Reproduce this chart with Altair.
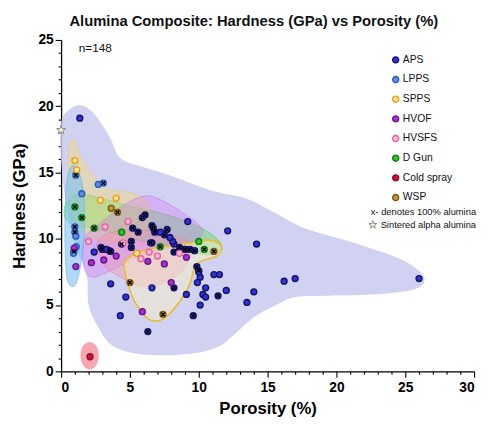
import altair as alt
import pandas as pd

# ---------------- data ----------------
processes = ["APS", "LPPS", "SPPS", "HVOF", "HVSFS", "D Gun", "Cold spray", "WSP"]
fill_colors = ["#3232dc", "#5a8ee8", "#ffe79a", "#a234cc", "#f7bcd6", "#22cc22", "#cc1038", "#c49437"]
stroke_colors = ["#141466", "#2a5cb8", "#f0980f", "#6b148e", "#e85f9c", "#127a12", "#8e0c2c", "#7a5412"]

aps_x = [1.36, 9.2, 12.1, 14.2, 16.2, 17.0, 26.0, 14.0, 13.5, 11.1, 11.5, 10.0, 10.1, 9.9, 10.5, 12.0,
         9.1, 10.3, 10.5, 11.4, 10.1, 9.6, 6.3, 6.6, 8.2, 3.6, 4.7, 4.3, 2.4, 9.7, 9.36, 9.0, 8.6, 8.2,
         8.1, 7.9, 7.5, 7.7, 7.2, 6.8, 6.7, 6.6, 6.1, 5.9, 5.2, 5.6, 5.1, 6.6, 3.0, 3.5, 4.4, 2.9, 3.3,
         3.6, 5.1, 6.5, 8.2, 8.6, 9.0, 9.86, 10.0]
aps_y = [19.1, 11.3, 10.6, 9.6, 6.8, 7.0, 7.0, 6.0, 5.2, 7.3, 7.3, 7.6, 7.1, 6.7, 6.3, 6.1,
         5.8, 5.8, 5.6, 5.7, 5.0, 4.2, 3.0, 6.3, 6.3, 6.6, 5.6, 4.2, 9.0, 9.1, 9.2, 9.2, 9.35, 9.6,
         9.8, 10.1, 10.3, 10.7, 10.5, 10.5, 10.8, 11.0, 11.8, 11.6, 10.8, 10.5, 9.8, 9.7, 9.2, 9.1, 9.6, 9.35, 9.2,
         9.05, 9.35, 9.7, 9.0, 9.0, 9.2, 7.9, 7.5]
aps_pure = [0, 0, 0, 0, 0, 0, 0, 0, 0, 0, 0, 1, 0, 0, 0, 0,
            0, 0, 0, 1, 0, 1, 1, 0, 1, 0, 0, 0, 0, 1, 1, 1, 1, 0,
            0, 0, 1, 1, 0, 1, 1, 1, 1, 1, 1, 1, 1, 0, 1, 1, 1, 1, 0,
            1, 1, 1, 1, 0, 1, 1, 0]

lpps_x = [1.07, 1.5, 1.0, 1.0, 1.07, 0.93, 1.1, 2.7, 3.07, 0.9]
lpps_y = [14.8, 13.4, 10.9, 10.5, 10.2, 9.05, 9.4, 14.1, 14.2, 8.9]
lpps_pure = [1, 0, 1, 1, 0, 1, 0, 0, 1, 0]

spps_x = [1.0, 1.14, 2.86, 4.0, 5.5]
spps_y = [15.9, 15.2, 12.9, 13.05, 8.9]
spps_pure = [0, 0, 0, 0, 0]

hvof_x = [0.95, 2.2, 8.0, 5.9, 6.3, 7.5, 9.1, 4.0, 3.1, 1.07]
hvof_y = [9.3, 8.2, 6.7, 4.5, 8.3, 8.1, 8.6, 8.7, 8.4, 7.9]
hvof_pure = [0, 0, 0, 0, 0, 0, 0, 0, 0, 0]

hvsfs_x = [4.86, 2.0, 4.5, 5.8, 6.4, 7.0, 3.2, 8.6]
hvsfs_y = [11.3, 9.8, 9.7, 8.5, 9.0, 8.7, 10.9, 8.9]
hvsfs_pure = [0, 0, 0, 0, 0, 0, 0, 0]

dgun_x = [1.0, 1.5, 2.4, 4.4, 10.0, 10.4, 7.2]
dgun_y = [12.4, 11.6, 10.8, 10.5, 9.8, 9.2, 9.4]
dgun_pure = [1, 1, 1, 0, 0, 1, 1]

cold_x = [2.1]
cold_y = [1.1]
cold_pure = [0]

wsp_x = [3.64, 5.0, 7.4, 11.1, 4.1]
wsp_y = [12.3, 6.7, 4.3, 9.05, 12.0]
wsp_pure = [0, 1, 1, 1, 1]

sintered_x = [0.0]
sintered_y = [18.2]

# region outlines (porosity %, hardness GPa)
aps_reg_x = [0.0, 0.43, 1.29, 2.14, 2.86, 3.57, 4.29, 5.71, 7.86, 10.9, 13.4, 15.8, 17.7, 20.6, 24.1, 25.6,
             26.4, 25.7, 22.7, 19.1, 17.0, 15.8, 14.1, 12.7, 11.3, 9.14, 6.07, 3.79, 2.71, 2.0, 1.86, 1.14, 0.43, 0.0]
aps_reg_y = [18.7, 19.6, 20.1, 19.7, 18.8, 17.6, 16.1, 15.5, 14.8, 13.65, 13.05, 11.8, 10.8, 9.9, 8.7, 7.9,
             7.0, 6.2, 5.8, 5.7, 5.6, 5.1, 4.15, 2.9, 1.8, 1.3, 1.26, 1.9, 3.3, 5.0, 7.3, 9.2, 12.2, 15.9]
dgun_reg_x = [0.29, 0.93, 2.36, 4.86, 7.71, 10.2, 11.4, 11.6, 10.6, 8.43, 5.57, 2.71, 0.93, 0.29]
dgun_reg_y = [12.5, 13.3, 13.2, 12.5, 11.8, 10.8, 9.9, 9.2, 8.8, 9.2, 9.9, 10.7, 11.05, 11.6]
spps_reg_x = [0.57, 1.0, 1.43, 2.14, 3.29, 4.86, 6.14, 6.43, 5.93, 4.5, 2.71, 1.57, 0.86, 0.57]
spps_reg_y = [16.9, 17.4, 16.2, 15.0, 13.8, 13.5, 12.9, 11.6, 10.3, 9.8, 9.9, 10.5, 11.8, 14.0]
hvof_reg_x = [1.64, 2.71, 4.5, 5.93, 7.0, 8.79, 10.2, 9.86, 8.07, 5.57, 3.79, 2.36, 1.71]
hvof_reg_y = [9.9, 11.05, 12.5, 13.2, 13.05, 12.0, 10.8, 9.9, 9.35, 8.6, 7.7, 7.1, 7.7]
hvsfs_reg_x = [2.71, 4.86, 7.71, 9.5, 9.14, 8.07, 6.29, 4.5, 3.07]
hvsfs_reg_y = [9.9, 10.7, 10.3, 9.6, 8.1, 7.0, 6.4, 7.0, 8.1]
wsp_reg_x = [4.64, 6.29, 8.79, 10.7, 11.6, 11.4, 9.86, 9.36, 8.64, 7.5, 6.43, 5.43, 4.86]
wsp_reg_y = [8.3, 9.2, 9.6, 9.9, 9.5, 8.75, 8.1, 6.6, 5.3, 4.0, 3.9, 5.1, 6.6]
lpps_reg_x = [0.79, 1.29, 1.64, 1.71, 1.5, 1.14, 0.79, 0.43, 0.29, 0.29, 0.43]
lpps_reg_y = [15.5, 15.0, 13.3, 10.7, 8.5, 6.75, 6.4, 7.0, 9.2, 12.2, 14.4]
cold_reg_x = [1.43, 1.6, 2.07, 2.55, 2.71, 2.55, 2.07, 1.6]
cold_reg_y = [1.2, 1.9, 2.2, 1.9, 1.2, 0.5, 0.15, 0.5]

x_ticks = list(range(0, 31))
y_ticks = list(range(0, 26))

# ---------------- build ----------------
FONT = "Liberation Sans"

rows = []
for name, xs, ys, ps in [
    ("APS", aps_x, aps_y, aps_pure), ("LPPS", lpps_x, lpps_y, lpps_pure),
    ("SPPS", spps_x, spps_y, spps_pure), ("HVOF", hvof_x, hvof_y, hvof_pure),
    ("HVSFS", hvsfs_x, hvsfs_y, hvsfs_pure), ("D Gun", dgun_x, dgun_y, dgun_pure),
    ("Cold spray", cold_x, cold_y, cold_pure), ("WSP", wsp_x, wsp_y, wsp_pure)]:
    for a, b, c in zip(xs, ys, ps):
        rows.append({"porosity": a, "hardness": b, "process": name, "pure": c})
pts = pd.DataFrame(rows)

major_tick = {"condition": {"test": "datum.value % 5 === 0", "value": 6}, "value": 3}
xaxis = alt.Axis(values=x_ticks, labelExpr="datum.value % 5 === 0 ? datum.label : ''",
                 tickSize=major_tick, labelOverlap=False, grid=False, domainColor="black",
                 tickColor="black", domainWidth=1.3, tickWidth=1.1, labelFont=FONT,
                 labelFontSize=14, labelFontWeight="bold", labelColor="black", labelPadding=4,
                 title="Porosity (%)", titleFont=FONT, titleFontSize=17, titleFontWeight="bold",
                 titleColor="black", titlePadding=6)
yaxis = alt.Axis(values=y_ticks, labelExpr="datum.value % 5 === 0 ? datum.label : ''",
                 tickSize=major_tick, labelOverlap=False, grid=False, domainColor="black",
                 tickColor="black", domainWidth=1.3, tickWidth=1.1, labelFont=FONT,
                 labelFontSize=14, labelFontWeight="bold", labelColor="black", labelPadding=2,
                 title="Hardness (GPa)", titleFont=FONT, titleFontSize=17, titleFontWeight="bold",
                 titleColor="black", titlePadding=10)

X = alt.X("porosity:Q", scale=alt.Scale(domain=[0, 30], nice=False, zero=False), axis=xaxis)
Y = alt.Y("hardness:Q", scale=alt.Scale(domain=[0, 25], nice=False, zero=False), axis=yaxis)


def region(xs, ys, fill, fop, stroke, sop, sw):
    df = pd.DataFrame({"porosity": xs, "hardness": ys, "k": list(range(len(xs)))})
    return alt.Chart(df).mark_line(
        interpolate="cardinal-closed", fill=fill, fillOpacity=fop, stroke=stroke,
        strokeOpacity=sop, strokeWidth=sw
    ).encode(x=X, y=Y, order="k:Q")


layers = [
    region(aps_reg_x, aps_reg_y, "#c9c9f0", 0.85, "#c9c9f0", 0.0, 1),
    region(dgun_reg_x, dgun_reg_y, "#4fdc4f", 0.4, "#3cc83c", 0.5, 1),
    region(spps_reg_x, spps_reg_y, "#f8e060", 0.38, "#f0d050", 0.5, 1),
    region(hvof_reg_x, hvof_reg_y, "#d673f2", 0.33, "#c060e0", 0.4, 1),
    region(hvsfs_reg_x, hvsfs_reg_y, "#ff8aa8", 0.35, "#f07090", 0.4, 1),
    region(wsp_reg_x, wsp_reg_y, "#fbf1bf", 0.45, "#e8be2c", 1.0, 1.6),
    region(lpps_reg_x, lpps_reg_y, "#7ec0f2", 0.6, "#6ab0e8", 0.6, 1),
    region(cold_reg_x, cold_reg_y, "#f36b7a", 0.6, "#f36b7a", 0.3, 1),
]

points = alt.Chart(pts).mark_circle(size=36, strokeWidth=1.4, opacity=1).encode(
    x=X, y=Y,
    fill=alt.Fill("process:N", scale=alt.Scale(domain=processes, range=fill_colors),
                  sort=processes, legend=alt.Legend(title=None)),
    stroke=alt.Stroke("process:N", scale=alt.Scale(domain=processes, range=stroke_colors),
                      sort=processes, legend=alt.Legend(title=None)),
)

crosses = alt.Chart(pts).transform_filter("datum.pure == 1").mark_point(
    shape="M-1,-1L1,1M-1,1L1,-1", size=14, filled=False, stroke="black",
    strokeWidth=1.4, opacity=1
).encode(x=X, y=Y)

star_path = ("M0,-1L0.235,-0.324L0.951,-0.309L0.38,0.124L0.588,0.809L0,0.4L-0.588,0.809"
             "L-0.38,0.124L-0.951,-0.309L-0.235,-0.324Z")
star = alt.Chart(pd.DataFrame({"porosity": sintered_x, "hardness": sintered_y})).mark_point(
    shape=star_path, size=90, filled=True, fill="#f4f2e4", stroke="#8a8a80", strokeWidth=1, opacity=1
).encode(x=X, y=Y)

n_text = alt.Chart(pd.DataFrame({"t": ["n=148"]})).mark_text(
    align="left", baseline="middle", font=FONT, fontSize=12, color="#111"
).encode(x=alt.value(18), y=alt.value(8), text="t:N")

note1 = alt.Chart(pd.DataFrame({"t": ["x- denotes 100% alumina"]})).mark_text(
    align="right", baseline="middle", font=FONT, fontSize=9.5, color="#111"
).encode(x=alt.value(422), y=alt.value(175), text="t:N")

note2 = alt.Chart(pd.DataFrame({"t": ["Sintered alpha alumina"]})).mark_text(
    align="right", baseline="middle", font=FONT, fontSize=9.5, color="#111"
).encode(x=alt.value(422), y=alt.value(188), text="t:N")

star_legend = alt.Chart(pd.DataFrame({"t": ["star"]})).mark_point(
    shape=star_path, size=70, filled=True, fill="#f4f2e4", stroke="#8a8a80", strokeWidth=1, opacity=1
).encode(x=alt.value(317), y=alt.value(188))

chart = alt.layer(*layers, points, crosses, star, n_text, note1, note2, star_legend).properties(
    width=420, height=337,
    autosize=alt.AutoSizeParams(type="none"),
    padding={"left": 54, "top": 29, "right": 6, "bottom": 47},
    title=alt.TitleParams("Alumina Composite: Hardness (GPa) vs Porosity (%)", font=FONT,
                          fontSize=15, fontWeight="bold", color="#111", anchor="middle",
                          dx=-14, offset=4),
).configure_view(stroke=None).configure_legend(
    orient="none", legendX=335, legendY=15, symbolSize=38, symbolStrokeWidth=1.4,
    labelFont=FONT, labelFontSize=10.5, labelColor="#111", rowPadding=7, labelOffset=2,
    symbolOpacity=1
)

chart.save("out.html", embed_options={"renderer": "svg", "actions": False})
